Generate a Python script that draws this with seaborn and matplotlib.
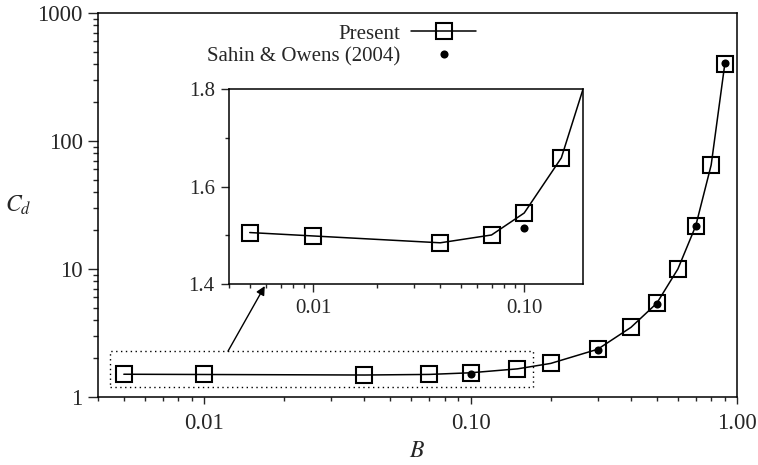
import numpy as np
import pandas as pd
import matplotlib
matplotlib.use("Agg")
import matplotlib.pyplot as plt
import matplotlib.ticker as mticker
from matplotlib.patches import Rectangle
import seaborn as sns

# Drag coefficient against blockage ratio
blockage = [0.005, 0.01, 0.04, 0.07, 0.1, 0.15, 0.2, 0.3, 0.4, 0.5, 0.6, 0.7, 0.8, 0.9]
cd_present = [1.506, 1.499, 1.485, 1.501, 1.546, 1.659, 1.83, 2.36, 3.5, 5.4, 10.0, 21.7, 65.0, 400.0]

blockage_ref = [0.1, 0.3, 0.5, 0.7, 0.9]
cd_ref = [1.515, 2.35, 5.35, 21.7, 404.0]

x_ticks_main = [0.01, 0.1, 1.0]
x_ticklabels_main = ["0.01", "0.10", "1.00"]
y_ticks_main = [1, 10, 100, 1000]
y_ticklabels_main = ["1", "10", "100", "1000"]

x_ticks_inset = [0.01, 0.1]
x_ticklabels_inset = ["0.01", "0.10"]
y_ticks_inset = [1.4, 1.6, 1.8]
y_ticklabels_inset = ["1.4", "1.6", "1.8"]

present = pd.DataFrame({"B": blockage, "Cd": cd_present})
reference = pd.DataFrame({"B": blockage_ref, "Cd": cd_ref})

sns.set_style("ticks")
plt.rcParams["font.family"] = ["Liberation Serif", "DejaVu Serif"]
plt.rcParams["mathtext.fontset"] = "stix"
plt.rcParams["axes.linewidth"] = 1.1

W, H = 758, 465
fig = plt.figure(figsize=(W / 100, H / 100), dpi=100)


def px_box(left, top, right, bottom):
    return [left / W, 1 - bottom / H, (right - left) / W, (bottom - top) / H]


ax = fig.add_axes(px_box(98, 13, 737, 397))
ins = fig.add_axes(px_box(229.3, 89, 583, 284.3))

line_kw = dict(color="black", linewidth=1.1, marker="s", markersize=11,
               markerfacecolor="none", markeredgecolor="black",
               markeredgewidth=1.5)


def draw_series(a, legend_labels):
    sns.lineplot(data=present, x="B", y="Cd", ax=a, sort=True,
                 label=legend_labels[0], **line_kw)
    sns.scatterplot(data=reference, x="B", y="Cd", ax=a, color="black",
                    s=34, marker="o", edgecolor="black", linewidth=0,
                    zorder=5, label=legend_labels[1])


draw_series(ax, ("Present", "Sahin & Owens (2004)"))
draw_series(ins, ("_p", "_r"))

# Main axes: log-log
ax.set_xscale("log")
ax.set_yscale("log")
ax.set_xlim(0.004, 1.0)
ax.set_ylim(1, 1000)
ax.xaxis.set_major_locator(mticker.FixedLocator(x_ticks_main))
ax.xaxis.set_major_formatter(mticker.FixedFormatter(x_ticklabels_main))
ax.yaxis.set_major_locator(mticker.FixedLocator(y_ticks_main))
ax.yaxis.set_major_formatter(mticker.FixedFormatter(y_ticklabels_main))
ax.xaxis.set_minor_locator(mticker.LogLocator(base=10, subs=np.arange(2, 10)))
ax.yaxis.set_minor_locator(mticker.LogLocator(base=10, subs=np.arange(2, 10)))
ax.xaxis.set_minor_formatter(mticker.NullFormatter())
ax.yaxis.set_minor_formatter(mticker.NullFormatter())
ax.tick_params(axis="x", which="major", direction="out", length=5.2, width=1.0,
               labelsize=16.5, pad=6)
ax.tick_params(axis="x", which="minor", direction="out", length=2.6, width=1.0)
ax.tick_params(axis="y", which="major", direction="out", length=7, width=1.0,
               labelsize=16.5, pad=4)
ax.tick_params(axis="y", which="minor", direction="out", length=3.5, width=1.0)
for s in ax.spines.values():
    s.set_visible(True)
    s.set_linewidth(1.1)
    s.set_color("black")
ax.set_xlabel("$B$", fontsize=17, labelpad=5)
ax.set_ylabel("$C_d$", fontsize=17, rotation=0, ha="center", va="center")
ax.yaxis.set_label_coords(-0.125, 0.5)

# Zoomed region marker and arrow to the inset
ax.add_patch(Rectangle((0.00444, 1.2), 0.171 - 0.00444, 2.28 - 1.2,
                       fill=False, edgecolor="black", linewidth=1.0,
                       linestyle=(0, (1, 2.5)), zorder=1))
ax.annotate("", xy=(0.0169, 7.36), xytext=(0.0123, 2.28),
            xycoords="data", textcoords="data",
            arrowprops=dict(arrowstyle="-|>", color="black", lw=1.0,
                            mutation_scale=13, shrinkA=0, shrinkB=0))

leg = ax.legend(loc="upper right", bbox_to_anchor=(476 / W, 1 - 24 / H),
                bbox_transform=fig.transFigure, frameon=False,
                markerfirst=False, fontsize=15, labelspacing=0.15,
                handlelength=3.1, handletextpad=0.55, borderpad=0,
                borderaxespad=0, scatterpoints=1, scatteryoffsets=[0.5],
                numpoints=1)

# Inset: linear Cd on log B
ins.set_facecolor("white")
ins.set_xscale("log")
ins.set_xlim(0.004, 0.19)
ins.set_ylim(1.4, 1.8)
ins.xaxis.set_major_locator(mticker.FixedLocator(x_ticks_inset))
ins.xaxis.set_major_formatter(mticker.FixedFormatter(x_ticklabels_inset))
ins.xaxis.set_minor_locator(mticker.LogLocator(base=10, subs=np.arange(2, 10)))
ins.xaxis.set_minor_formatter(mticker.NullFormatter())
ins.yaxis.set_major_locator(mticker.FixedLocator(y_ticks_inset))
ins.yaxis.set_major_formatter(mticker.FixedFormatter(y_ticklabels_inset))
ins.yaxis.set_minor_locator(mticker.FixedLocator([1.5, 1.7]))
ins.tick_params(which="major", direction="out", length=5.5, width=1.0,
                labelsize=15, pad=5)
ins.tick_params(which="minor", direction="out", length=2.6, width=1.0)
ins.set_xlabel("")
ins.set_ylabel("")
for s in ins.spines.values():
    s.set_visible(True)
    s.set_linewidth(1.1)
    s.set_color("black")

fig.savefig("out.png", dpi=100)
